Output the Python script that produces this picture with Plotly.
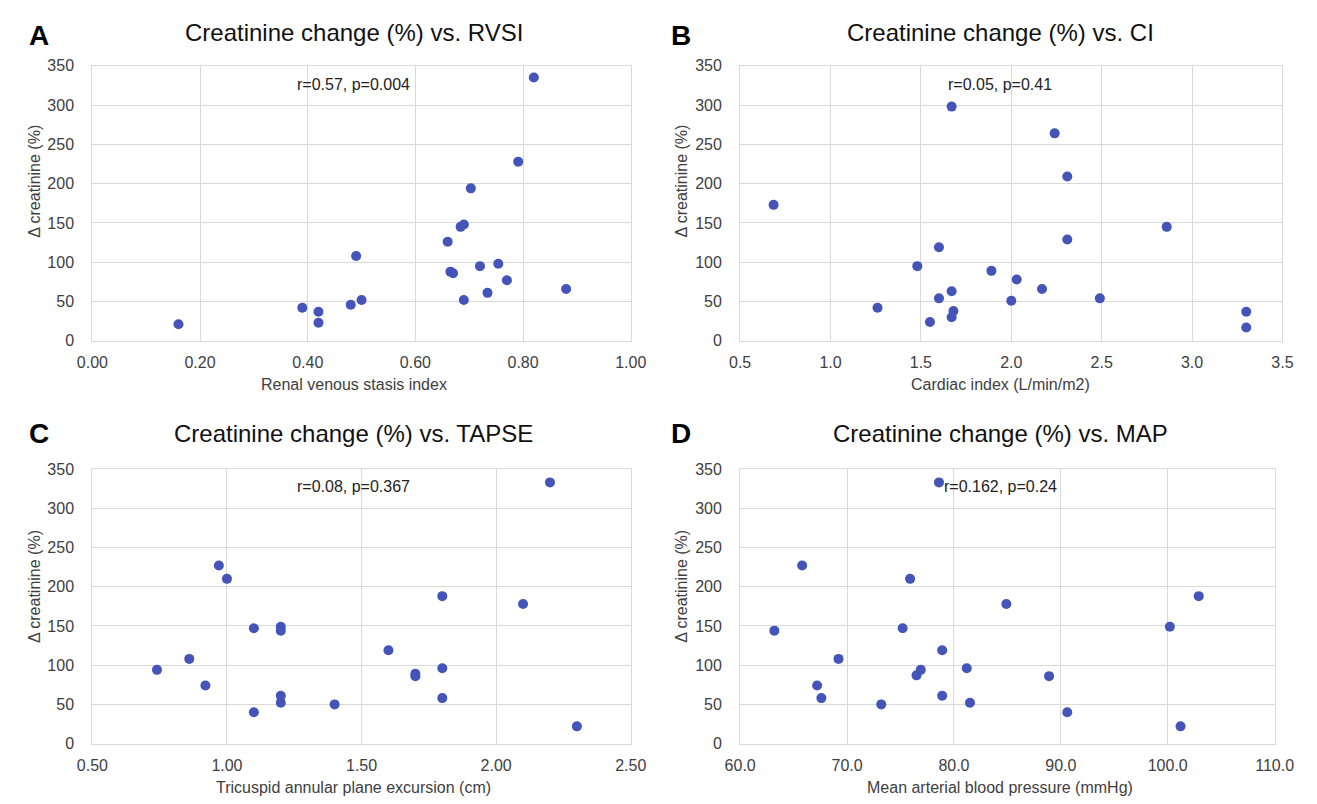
import plotly.graph_objects as go

W, H = 1317, 804

# ---------------- data ----------------
rvsi_x = [0.16, 0.39, 0.42, 0.42, 0.48, 0.49, 0.50, 0.66, 0.665, 0.67, 0.684,
          0.69, 0.69, 0.703, 0.72, 0.734, 0.754, 0.77, 0.791, 0.82, 0.88]
rvsi_y = [21, 42, 37, 23, 46, 108, 52, 126, 88, 86, 145,
          148, 52, 194, 95, 61, 98, 77, 228, 335, 66]

ci_x = [0.685, 1.26, 1.48, 1.55, 1.60, 1.60, 1.67, 1.67, 1.67, 1.68, 1.89,
        2.00, 2.03, 2.17, 2.24, 2.31, 2.31, 2.49, 2.86, 3.30, 3.30]
ci_y = [173, 42, 95, 24, 119, 54, 298, 63, 30, 38, 89,
        51, 78, 66, 264, 129, 209, 54, 145, 37, 17]

tapse_x = [0.74, 0.86, 0.92, 0.97, 1.00, 1.10, 1.10, 1.20, 1.20, 1.20, 1.20,
           1.40, 1.60, 1.70, 1.70, 1.80, 1.80, 1.80, 2.10, 2.20, 2.30]
tapse_y = [94, 108, 74, 227, 210, 147, 40, 149, 144, 61, 52,
           50, 119, 89, 86, 188, 96, 58, 178, 333, 22]

map_x = [63.2, 65.8, 67.2, 67.6, 69.2, 73.2, 75.2, 75.9, 76.5, 76.9, 78.6,
         78.9, 78.9, 81.2, 81.5, 84.9, 88.9, 90.6, 100.2, 101.2, 102.9]
map_y = [144, 227, 74, 58, 108, 50, 147, 210, 87, 94, 333,
         119, 61, 96, 52, 178, 86, 40, 149, 22, 188]

panel_letters = ["A", "B", "C", "D"]
panel_titles = ["Creatinine change (%) vs. RVSI", "Creatinine change (%) vs. CI",
                "Creatinine change (%) vs. TAPSE", "Creatinine change (%) vs. MAP"]
stat_labels = ["r=0.57, p=0.004", "r=0.05, p=0.41", "r=0.08, p=0.367", "r=0.162, p=0.24"]
x_titles = ["Renal venous stasis index", "Cardiac index (L/min/m2)",
            "Tricuspid annular plane excursion (cm)", "Mean arterial blood pressure (mmHg)"]
y_title = "Δ creatinine (%)"

x_ranges = [[0, 1], [0.5, 3.5], [0.5, 2.5], [60, 110]]
x_dticks = [0.2, 0.5, 0.5, 10]
x_formats = [".2f", ".1f", ".2f", ".1f"]
y_range = [0, 350]
y_dtick = 50

# ---------------- layout geometry (pixels) ----------------
# plot-area boxes: left, right, top, bottom
boxes = [(78.5, 632, 59, 340), (744.5, 1302, 59, 340),
         (78.5, 632, 471, 751.5), (744.5, 1294, 471, 751.5)]
title_cx = [347, 1012, 347, 1012]
title_cy = [25, 25, 435, 435]
letter_x = [11, 671, 11, 671]
letter_cy = [28, 28, 435, 435]
stat_cy = [78, 78, 489, 489]
stat_cx = [347, 1012, 347, 1012]
xt_cy = [385, 385, 796, 796]
yt_cx = [19, 684, 19, 684]
yt_cy = [177, 177, 591, 591]

FONT = "Liberation Sans, Arial, sans-serif"
MARK = "#4454B8"
GRID = "#d9d9d9"
TXT = "#404040"

def px(x):
    return x / W

def py(y):
    return 1 - y / H

series = [(rvsi_x, rvsi_y), (ci_x, ci_y), (tapse_x, tapse_y), (map_x, map_y)]

fig = go.Figure()
annotations = []
layout_axes = {}
for i, (xs, ys) in enumerate(series):
    sfx = "" if i == 0 else str(i + 1)
    fig.add_trace(go.Scatter(
        x=xs, y=ys, mode="markers",
        marker=dict(color=MARK, size=10, line=dict(width=0)),
        xaxis="x" + sfx, yaxis="y" + sfx, showlegend=False,
        hoverinfo="x+y"))
    l, r, t, b = boxes[i]
    layout_axes["xaxis" + sfx] = dict(
        domain=[px(l), px(r)], anchor="y" + sfx, range=x_ranges[i],
        dtick=x_dticks[i], tick0=x_ranges[i][0], tickformat=x_formats[i],
        showgrid=True, gridcolor=GRID, gridwidth=1.2,
        showline=True, linecolor=GRID, linewidth=1.2, mirror=True,
        zeroline=False, ticks="", ticklabelstandoff=7,
        tickfont=dict(family=FONT, size=16, color=TXT))
    layout_axes["yaxis" + sfx] = dict(
        domain=[py(b), py(t)], anchor="x" + sfx, range=y_range,
        dtick=y_dtick, tick0=0,
        showgrid=True, gridcolor=GRID, gridwidth=1.2,
        showline=True, linecolor=GRID, linewidth=1.2, mirror=True,
        zeroline=False, ticks="", ticklabelstandoff=14,
        tickfont=dict(family=FONT, size=16, color=TXT))

    annotations.append(dict(
        text=panel_titles[i], x=px(title_cx[i]), y=py(title_cy[i]),
        xref="paper", yref="paper", xanchor="center", yanchor="middle",
        showarrow=False, font=dict(family=FONT, size=24, color="#111111")))
    annotations.append(dict(
        text="<b>" + panel_letters[i] + "</b>", x=px(letter_x[i]), y=py(letter_cy[i]),
        xref="paper", yref="paper", xanchor="left", yanchor="middle",
        showarrow=False, font=dict(family=FONT, size=28, color="#000000")))
    annotations.append(dict(
        text=stat_labels[i], x=px(stat_cx[i]), y=py(stat_cy[i]),
        xref="paper", yref="paper", xanchor="center", yanchor="middle",
        showarrow=False, font=dict(family=FONT, size=16, color="#222222")))
    annotations.append(dict(
        text=x_titles[i], x=px(title_cx[i]), y=py(xt_cy[i]),
        xref="paper", yref="paper", xanchor="center", yanchor="middle",
        showarrow=False, font=dict(family=FONT, size=16, color=TXT)))
    annotations.append(dict(
        text=y_title, x=px(yt_cx[i]), y=py(yt_cy[i]), textangle=-90,
        xref="paper", yref="paper", xanchor="center", yanchor="middle",
        showarrow=False, font=dict(family=FONT, size=16, color=TXT)))

fig.update_layout(
    width=W, height=H, margin=dict(l=0, r=0, t=0, b=0),
    paper_bgcolor="white", plot_bgcolor="white",
    annotations=annotations, **layout_axes)

fig.write_html("out.html")
